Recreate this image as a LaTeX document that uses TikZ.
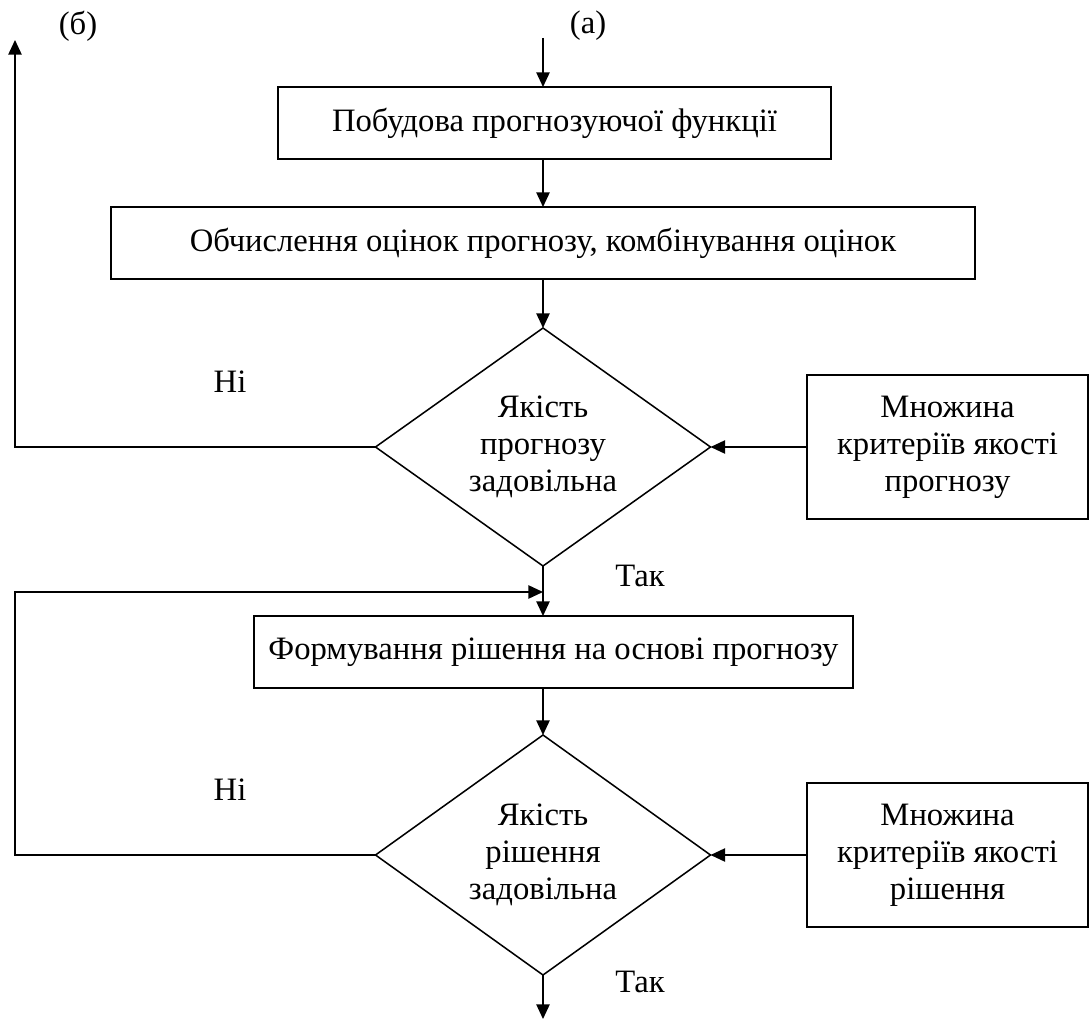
\documentclass[tikz,border=0pt]{standalone}
\usepackage{fontspec}
\setmainfont{Liberation Serif}
\usetikzlibrary{arrows.meta,shapes.geometric}
\begin{document}
\begin{tikzpicture}[x=0.75pt,y=-0.75pt,
  font=\fontsize{24.5}{27.75}\selectfont,
  every node/.style={inner sep=0pt,outer sep=0pt},
  box/.style={draw,line width=1.15pt,minimum height=54pt,align=center},
  crit/.style={draw,line width=1.15pt,minimum width=210.75pt,minimum height=108pt,align=center},
  dia/.style={draw,line width=1.15pt,shape=diamond,aspect=1.41,minimum width=251.25pt,align=center},
  arr/.style={line width=1.15pt,-{Triangle[length=11pt,width=10pt]}},
  lbl/.style={}]
\useasboundingbox (0,0) rectangle (1089,1020);
% labels
\node[lbl] (lb) at (78,26) {(б)};
\node[lbl] (la) at (588,26) {(а)};
% nodes
\coordinate (start) at (543,38);
\node[box,minimum width=414.75pt] (b1) at (554.5,123) {Побудова прогнозуючої функції};
\node[box,minimum width=648pt] (b2) at (543,243) {Обчислення оцінок прогнозу, комбінування оцінок};
\node[dia,minimum height=178.5pt] (d1) at (543,447) {Якість\\прогнозу\\задовільна};
\node[crit] (c1) at (947.5,447) {Множина\\критеріїв якості\\прогнозу};
\node[box,minimum width=449.25pt] (b3) at (553.5,652) {Формування рішення на основі прогнозу};
\node[dia,minimum height=180pt] (d2) at (543,855) {Якість\\рішення\\задовільна};
\node[crit] (c2) at (947.5,855) {Множина\\критеріїв якості\\рішення};
\coordinate (topL) at (15,40);
\coordinate (loopL) at (15,592);
\coordinate (endP) at (543,1019);
% text labels
\node[lbl] (n1) at (230,382) {Ні};
\node[lbl] (t1) at (640,576) {Так};
\node[lbl] (n2) at (230,790) {Ні};
\node[lbl] (t2) at (640,982) {Так};
% connectors
\draw[arr] (start) -- (start |- b1.north);
\draw[arr] (b1.south -| d1.north) -- (b2.north -| d1.north);
\draw[arr] (b2.south -| d1.north) -- (d1.north);
\draw[arr] (c1.west) -- (d1.east);
\draw[arr] (d1.west) -- (d1.west -| topL) -- (topL);
\draw[arr] (d1.south) -- (b3.north -| d1.south);
\draw[arr] (d2.west) -- (d2.west -| loopL) -- (loopL) -- (loopL -| d1.south);
\draw[arr] (b3.south -| d2.north) -- (d2.north);
\draw[arr] (c2.west) -- (d2.east);
\draw[arr] (d2.south) -- (endP);
\end{tikzpicture}
\end{document}
